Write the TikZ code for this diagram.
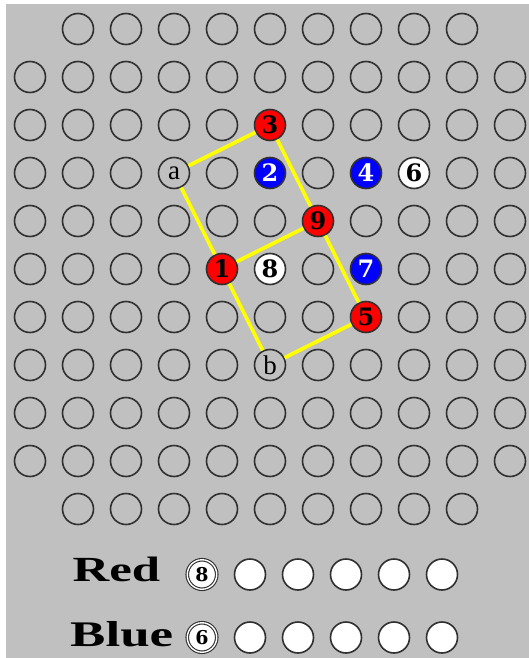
\documentclass[tikz,border=0pt]{standalone}
\usepackage{fontspec}
\setmainfont{Liberation Serif}
\newfontfamily\digfont{DejaVu Serif}
\usepackage{graphicx}
\definecolor{bg}{HTML}{C0C0C0}
\definecolor{ol}{HTML}{303030}
\definecolor{yl}{HTML}{FFFF00}
\definecolor{rd}{HTML}{FF0000}
\definecolor{bl}{HTML}{0000FF}
\tikzset{
  hole/.style={circle, minimum size=31pt, inner sep=0pt, draw=ol, line width=1.6pt, fill=bg},
  pegfont/.style={font=\digfont\bfseries\fontsize{24}{24}\selectfont},
  redpeg/.style={hole, fill=rd, text=black, pegfont},
  bluepeg/.style={hole, fill=bl, text=white, pegfont},
  whitepeg/.style={hole, fill=white, text=black, pegfont},
  letter/.style={hole, text=black, font=\fontsize{27}{27}\selectfont},
  tray/.style={hole, fill=white},
  traypeg/.style={circle, minimum size=29.5pt, inner sep=0pt, draw=ol, line width=1.1pt, double=white, double distance=1.4pt, fill=white, font=\digfont\bfseries\fontsize{19}{19}\selectfont},
  link/.style={draw=yl, line width=3.6pt},
  lbl/.style={inner sep=0pt, anchor=base west}
}
\expandafter\def\csname sp-3-6\endcsname{}
\expandafter\def\csname sp-4-4\endcsname{}
\expandafter\def\csname sp-4-6\endcsname{}
\expandafter\def\csname sp-4-8\endcsname{}
\expandafter\def\csname sp-4-9\endcsname{}
\expandafter\def\csname sp-5-7\endcsname{}
\expandafter\def\csname sp-6-5\endcsname{}
\expandafter\def\csname sp-6-6\endcsname{}
\expandafter\def\csname sp-6-8\endcsname{}
\expandafter\def\csname sp-7-8\endcsname{}
\expandafter\def\csname sp-8-6\endcsname{}
\expandafter\def\csname sp-1-1\endcsname{}
\expandafter\def\csname sp-1-11\endcsname{}
\expandafter\def\csname sp-11-1\endcsname{}
\expandafter\def\csname sp-11-11\endcsname{}
\begin{document}
\begin{tikzpicture}[x=1pt,y=-1pt]
\useasboundingbox (0,0) rectangle (529,658);
\fill[white] (0,0) rectangle (529,658);
\fill[bg] (6,4) rectangle (529,658);
% grid of empty holes
\foreach \r in {1,...,11}{
  \foreach \c in {1,...,11}{
    \ifcsname sp-\r-\c\endcsname\else
      \node[hole] (h-\r-\c) at ({30+48*(\c-1)},{29+48*(\r-1)}) {};
    \fi
  }
}
% special pegs (row r, col c) at x=30+48(c-1), y=29+48(r-1)
\node[letter]   (pa) at (174,173) {a};
\node[letter]   (pb) at (270,365) {b};
\node[redpeg]   (p3) at (270,125) {3};
\node[bluepeg]  (p2) at (270,173) {2};
\node[bluepeg]  (p4) at (366,173) {4};
\node[whitepeg] (p6) at (414,173) {6};
\node[redpeg]   (p9) at (318,221) {9};
\node[redpeg]   (p1) at (222,269) {1};
\node[whitepeg] (p8) at (270,269) {8};
\node[bluepeg]  (p7) at (366,269) {7};
\node[redpeg]   (p5) at (366,317) {5};
% yellow links
\draw[link] (pa) -- (p3);
\draw[link] (pa) -- (p1);
\draw[link] (p3) -- (p9);
\draw[link] (p1) -- (p9);
\draw[link] (p9) -- (p5);
\draw[link] (p1) -- (pb);
\draw[link] (pb) -- (p5);
% trays
\node[lbl] (red) at (72.5,581) {\resizebox{87.5pt}{24.5pt}{\bfseries Red}};
\node[lbl] (blue) at (70,646.5) {\resizebox{103pt}{25pt}{\bfseries Blue}};
\node[traypeg] (tr0) at (202,574.5) {8};
\node[traypeg] (tb0) at (202,637.5) {6};
\foreach \k in {1,...,5}{
  \node[tray] (tr\k) at ({202+48*\k},574.5) {};
  \node[tray] (tb\k) at ({202+48*\k},637.5) {};
}
\end{tikzpicture}
\end{document}
